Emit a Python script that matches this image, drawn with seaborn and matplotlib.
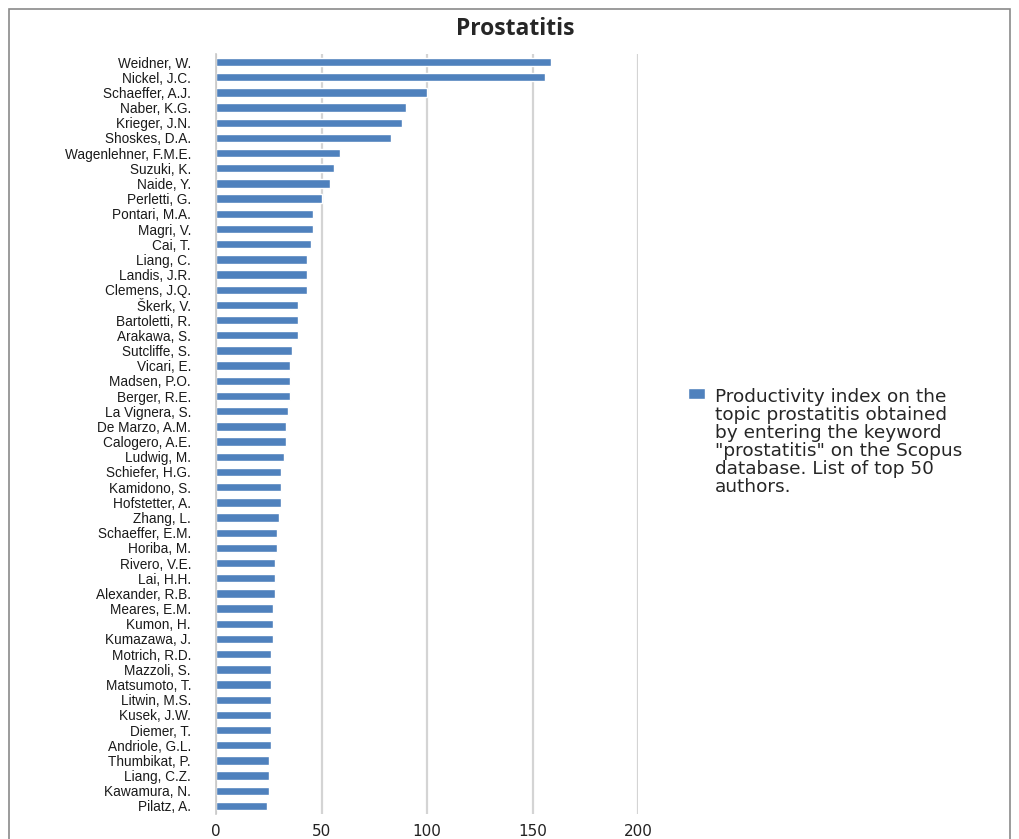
import matplotlib
matplotlib.use("Agg")
import matplotlib.pyplot as plt
from matplotlib.patches import Rectangle
import seaborn as sns
import pandas as pd

authors = ["Weidner, W.", "Nickel, J.C.", "Schaeffer, A.J.", "Naber, K.G.", "Krieger, J.N.",
           "Shoskes, D.A.", "Wagenlehner, F.M.E.", "Suzuki, K.", "Naide, Y.", "Perletti, G.",
           "Pontari, M.A.", "Magri, V.", "Cai, T.", "Liang, C.", "Landis, J.R.",
           "Clemens, J.Q.", "Škerk, V.", "Bartoletti, R.", "Arakawa, S.", "Sutcliffe, S.",
           "Vicari, E.", "Madsen, P.O.", "Berger, R.E.", "La Vignera, S.", "De Marzo, A.M.",
           "Calogero, A.E.", "Ludwig, M.", "Schiefer, H.G.", "Kamidono, S.", "Hofstetter, A.",
           "Zhang, L.", "Schaeffer, E.M.", "Horiba, M.", "Rivero, V.E.", "Lai, H.H.",
           "Alexander, R.B.", "Meares, E.M.", "Kumon, H.", "Kumazawa, J.", "Motrich, R.D.",
           "Mazzoli, S.", "Matsumoto, T.", "Litwin, M.S.", "Kusek, J.W.", "Diemer, T.",
           "Andriole, G.L.", "Thumbikat, P.", "Liang, C.Z.", "Kawamura, N.", "Pilatz, A."]
values = [159, 156, 100, 90, 88, 83, 59, 56, 54, 50,
          46, 46, 45, 43, 43, 43, 39, 39, 39, 36,
          35, 35, 35, 34, 33, 33, 32, 31, 31, 31,
          30, 29, 29, 28, 28, 28, 27, 27, 27, 26,
          26, 26, 26, 26, 26, 26, 25, 25, 25, 24]
x_ticks = [0, 50, 100, 150, 200]
legend_label = ("Productivity index on the\ntopic prostatitis obtained\nby entering the keyword\n"
                "\"prostatitis\" on the Scopus\ndatabase. List of top 50\nauthors.")

df = pd.DataFrame({"author": authors, "value": values})

sns.set_style("white")
plt.rcParams['font.family'] = ['DejaVu Sans']

fig = plt.figure(figsize=(10.19, 8.39), dpi=100)
ax = fig.add_axes([216/1019, 1 - 814/839, (638-216)/1019, (814-54)/839])

sns.barplot(data=df, x="value", y="author", orient="h", color="#4F81BD",
            width=0.55, saturation=1, ax=ax, label=legend_label)

ax.set_xlim(0, 200)
ax.set_ylim(49.527, -0.527)
ax.set_xticks(x_ticks)
ax.set_xticklabels([str(t) for t in x_ticks], fontsize=11, color="#222222")
ax.set_xlabel("")
ax.set_ylabel("")
ax.tick_params(axis="y", labelsize=9.8, length=0, pad=18, labelcolor="#1a1a1a")
ax.tick_params(axis="x", length=0, pad=7)
for lab in ax.get_yticklabels():
    lab.set_fontfamily(["Liberation Sans", "DejaVu Sans"])
ax.xaxis.grid(True, color="#d4d4d4", linewidth=1.6)
ax.set_axisbelow(True)
for s in ["top", "right", "bottom"]:
    ax.spines[s].set_visible(False)
ax.spines["left"].set_color("#c8c8c8")
ax.spines["left"].set_linewidth(1.2)

fig.text(515/1019, 1 - 29/839, "Prostatitis", ha="center", va="center",
         fontsize=16.5, fontweight="bold", fontfamily="Open Sans")

leg = ax.legend(loc="upper left", bbox_to_anchor=(675/1019, 1 - 375/839),
                bbox_transform=fig.transFigure, frameon=False, fontsize=13.3,
                handlelength=0.95, handleheight=0.55, handletextpad=0.5,
                labelspacing=0.2, borderpad=0.2)
for t in leg.get_texts():
    t.set_linespacing(1.0)
try:
    for col in leg._legend_handle_box.get_children():
        for row in col.get_children():
            row.align = "top"
except Exception:
    pass

fig.patches.append(Rectangle((9/1019, -0.01), (1010-9)/1019, 1 - 9/839 + 0.01,
                             transform=fig.transFigure, fill=False,
                             edgecolor="#8a8a8a", linewidth=1.2))

fig.savefig("out.png", dpi=100)
